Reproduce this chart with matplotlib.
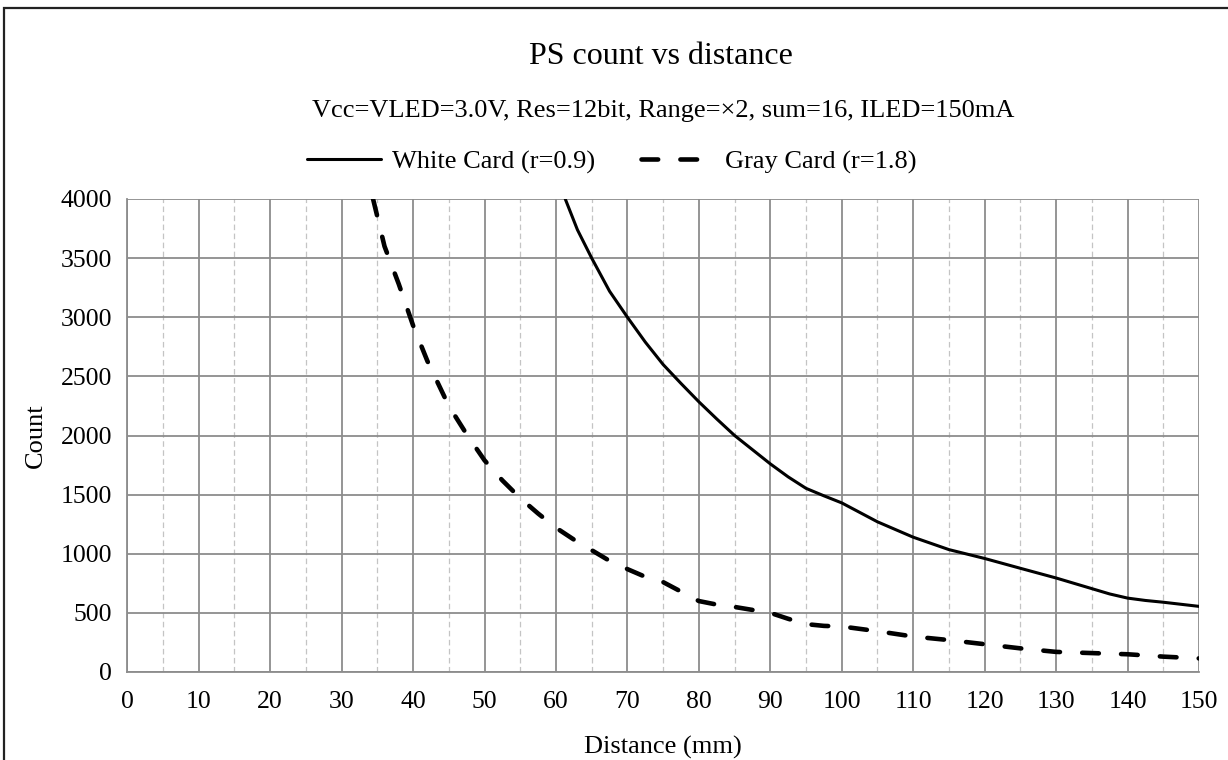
import matplotlib
matplotlib.use("Agg")
import matplotlib.pyplot as plt
from matplotlib.patches import Rectangle
from matplotlib.ticker import MultipleLocator

plt.rcParams['font.family'] = ['Liberation Serif', 'DejaVu Serif']
plt.rcParams['lines.scale_dashes'] = False

title = "PS count vs distance"
subtitle = "Vcc=VLED=3.0V, Res=12bit, Range=\u00d72, sum=16, ILED=150mA"
white_label = "White Card (r=0.9)"
gray_label = "Gray Card (r=1.8)"

white_x = [61.3, 63, 65, 67.5, 70, 72.5, 75, 77.5, 80, 82.5, 85, 87.5, 90, 92.5, 95, 97.5,
           100, 105, 110, 115, 120, 125, 130, 135, 137.5, 140, 142.5, 145, 150]
white_y = [4000, 3740, 3500, 3220, 3000, 2790, 2600, 2440, 2285, 2140, 2000, 1880, 1760, 1650, 1553, 1490,
           1430, 1270, 1140, 1035, 960, 877, 795, 705, 660, 625, 605, 590, 555]

gray_x = [34.4, 36, 38, 40, 42, 45, 47.5, 50, 52.5, 55, 57.5, 60, 62.5, 65, 67.5, 70, 72.5, 75,
          77.5, 80, 82.5, 85, 87.5, 90, 92.5, 95, 97.5, 100, 105, 110, 115, 120, 125, 130, 135, 140, 145, 150]
gray_y = [4000, 3600, 3280, 2930, 2630, 2250, 2010, 1790, 1620, 1470, 1340, 1220, 1120, 1030, 940, 870, 805, 760,
          680, 600, 570, 550, 525, 500, 450, 405, 390, 385, 345, 300, 270, 235, 200, 170, 160, 150, 130, 115]

x_ticks = list(range(0, 151, 10))
y_ticks = list(range(0, 4001, 500))

W, H = 1228, 760
fig = plt.figure(figsize=(W / 100, H / 100), dpi=100)
ax = fig.add_axes([127.3 / W, 1 - 672 / H, (1199 - 127.3) / W, (672 - 199) / H])

ax.plot(white_x, white_y, color='black', lw=2.2, solid_capstyle='round',
        solid_joinstyle='round', label=white_label, zorder=3)
ax.plot(gray_x, gray_y, color='black', lw=3.3, dashes=(12, 16), dash_capstyle='round',
        dash_joinstyle='round', label=gray_label, zorder=3)

ax.set_xlim(0, 150)
ax.set_ylim(0, 4000)
ax.set_xticks(x_ticks)
ax.set_yticks(y_ticks)
ax.xaxis.set_minor_locator(MultipleLocator(5))
ax.grid(which='major', color='#8c8c8c', lw=1.3)
ax.grid(which='minor', axis='x', color='#c4c4c4', lw=0.9, ls=(0, (4, 2.5)))
for s in ['top', 'right']:
    ax.spines[s].set_visible(False)
for s in ['left', 'bottom']:
    ax.spines[s].set_color('#8c8c8c')
    ax.spines[s].set_linewidth(1.3)
ax.tick_params(axis='both', which='both', length=0, labelsize=18.5)
ax.tick_params(axis='x', pad=14)
ax.tick_params(axis='y', pad=11)

ax.set_xlabel("Distance (mm)", fontsize=19, labelpad=16)
ax.set_ylabel("Count", fontsize=19, labelpad=10)

fig.text(661 / W, 1 - 57 / H, title, ha='center', va='center', fontsize=23)
fig.text(663 / W, 1 - 111 / H, subtitle, ha='center', va='center', fontsize=19)

handles, labels = ax.get_legend_handles_labels()
fig.legend(handles, labels, loc='center', bbox_to_anchor=(612 / W, 1 - 162 / H), ncol=2,
           frameon=False, fontsize=19, handlelength=2.8, handletextpad=0.4, columnspacing=1.75)

fig.patches.append(Rectangle((4 / W, -0.1), 1.2, 1 - 8 / H + 0.1, transform=fig.transFigure,
                             fill=False, edgecolor='#222222', lw=1.6))

fig.savefig("out.png", dpi=100)
